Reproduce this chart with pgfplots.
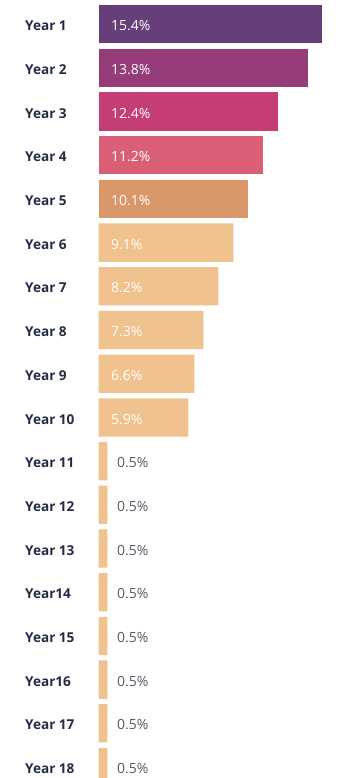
\documentclass[border=0pt]{standalone}
\usepackage{pgfplots}
\pgfplotsset{compat=1.18}
\usepackage{pgfplotstable}
\usepackage{fontspec}
\setmainfont{Open Sans}
\definecolor{c1}{RGB}{101,62,122}
\definecolor{c2}{RGB}{150,60,120}
\definecolor{c3}{RGB}{196,62,115}
\definecolor{c4}{RGB}{218,94,118}
\definecolor{c5}{RGB}{218,152,106}
\definecolor{c6}{RGB}{239,194,142}
\definecolor{lab}{RGB}{35,43,69}
\definecolor{val}{RGB}{85,90,100}

% y = bar centre (px from top), len = drawn bar length, val = label
\pgfplotstableread{
y     len    val       name
24.1  223.6  15.4\%    {Year 1}
67.8  209.6  13.8\%    {Year 2}
111.5 179.6  12.4\%    {Year 3}
155.2 164.6  11.2\%    {Year 4}
198.9 149.6  10.1\%    {Year 5}
242.6 134.6  9.1\%     {Year 6}
286.3 119.6  8.2\%     {Year 7}
330.0 104.6  7.3\%     {Year 8}
373.7 95.6   6.6\%     {Year 9}
417.4 89.6   5.9\%     {Year 10}
461.1 8.6    0.5\%     {Year 11}
504.8 8.6    0.5\%     {Year 12}
548.5 8.6    0.5\%     {Year 13}
592.2 8.6    0.5\%     {Year14}
635.9 8.6    0.5\%     {Year 15}
679.6 8.6    0.5\%     {Year16}
723.3 8.6    0.5\%     {Year 17}
767.0 8.6    0.5\%     {Year 18}
}\data

\pgfplotsset{
  mybar/.style={xbar, bar shift=0pt, bar width=38.3pt, draw=none, fill=#1},
  lbl/.style={draw=none, mark=none, nodes near coords, point meta=explicit symbolic,
    nodes near coords style={anchor=base west, inner sep=0pt, yshift=-6.6pt}},
}

\begin{document}
\begin{tikzpicture}
\begin{axis}[
  width=355pt, height=778pt, scale only axis,
  xmin=-98.7, xmax=256.3, ymin=0, ymax=778, y dir=reverse,
  hide axis, clip=true,
]
\addplot[mybar=c1, skip coords between index={1}{18}] table[x=len, y=y] \data;
\addplot[mybar=c2, skip coords between index={0}{1}, skip coords between index={2}{18}] table[x=len, y=y] \data;
\addplot[mybar=c3, skip coords between index={0}{2}, skip coords between index={3}{18}] table[x=len, y=y] \data;
\addplot[mybar=c4, skip coords between index={0}{3}, skip coords between index={4}{18}] table[x=len, y=y] \data;
\addplot[mybar=c5, skip coords between index={0}{4}, skip coords between index={5}{18}] table[x=len, y=y] \data;
\addplot[mybar=c6, skip coords between index={0}{5}] table[x=len, y=y] \data;

\addplot[lbl, skip coords between index={10}{18}, nodes near coords style={text=white, font=\fontsize{14}{16}\selectfont}]
  table[x expr=12.3, y=y, meta=val] \data;
\addplot[lbl, skip coords between index={0}{10}, nodes near coords style={text=val, font=\fontsize{14}{16}\selectfont}]
  table[x expr=18.3, y=y, meta=val] \data;
\addplot[lbl, nodes near coords style={text=lab, font=\bfseries\fontsize{13.6}{16}\selectfont}]
  table[x expr=-73.7, y=y, meta=name] \data;

\coordinate (bl) at (rel axis cs:0,0);
\coordinate (tr) at (rel axis cs:1,1);
\end{axis}
\pgfresetboundingbox
\path (bl) rectangle (tr);
\end{tikzpicture}
\end{document}
